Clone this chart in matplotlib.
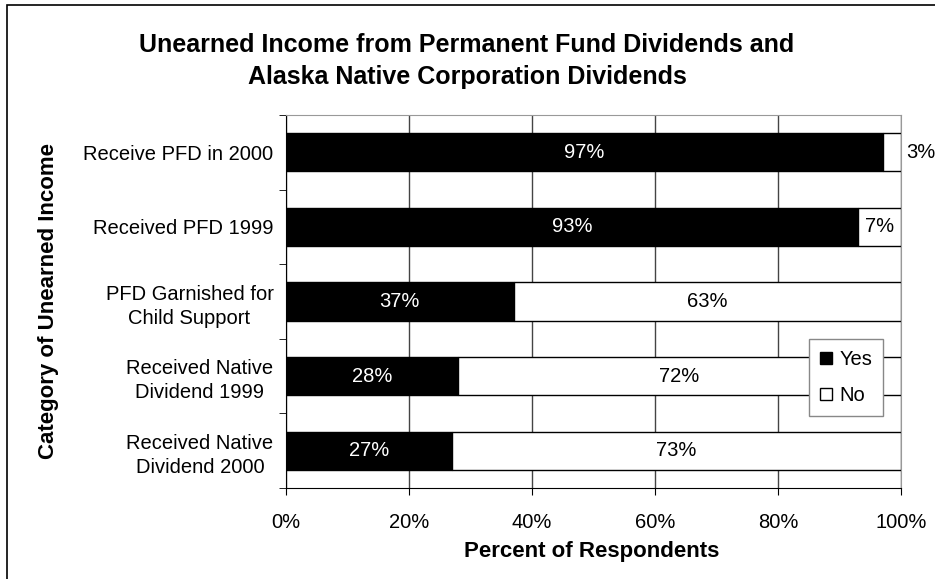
import matplotlib
matplotlib.use("Agg")
import matplotlib.pyplot as plt
from matplotlib.patches import Rectangle
import numpy as np

plt.rcParams['font.family'] = ['Liberation Sans', 'DejaVu Sans']

# data
categories = ["Receive PFD in 2000", "Received PFD 1999", "PFD Garnished for\nChild Support",
              "Received Native\nDividend 1999", "Received Native\nDividend 2000"]
yes_vals = [97, 93, 37, 28, 27]
no_vals = [3, 7, 63, 72, 73]
xticks = [0, 20, 40, 60, 80, 100]

fig = plt.figure(figsize=(9.35, 5.79), dpi=100)
ax = fig.add_axes([286/935, 1-488/579, 615/935, 373/579])

y = np.arange(len(categories))
ax.barh(y, yes_vals, height=0.51, color='black', edgecolor='black', linewidth=1, label='Yes', zorder=3)
ax.barh(y, no_vals, left=yes_vals, height=0.51, color='white', edgecolor='black', linewidth=1, label='No', zorder=3)

fs = 14.5
for i in range(len(categories)):
    ax.text(yes_vals[i]/2, y[i], f"{yes_vals[i]}%", color='white', ha='center', va='center', fontsize=fs, zorder=4)
    if no_vals[i] < 5:
        ax.text(100.8, y[i], f"{no_vals[i]}%", color='black', ha='left', va='center', fontsize=fs, zorder=4, clip_on=False)
    else:
        ax.text(yes_vals[i] + no_vals[i]/2, y[i], f"{no_vals[i]}%", color='black', ha='center', va='center', fontsize=fs, zorder=4)

ax.set_xlim(0, 100)
ax.set_ylim(len(categories)-0.5, -0.5)
ax.set_xticks(xticks)
ax.set_xticklabels([f"{v}%" for v in xticks], fontsize=fs)
ax.set_yticks(y)
ax.set_yticklabels(categories, fontsize=fs, multialignment='center', linespacing=1.35)
ax.tick_params(axis='y', which='major', length=0, pad=9)
ax.set_yticks(np.arange(-0.5, len(categories)), minor=True)
ax.tick_params(axis='y', which='minor', length=5, direction='out', color='black')
ax.tick_params(axis='x', length=5, direction='out', pad=13)

ax.grid(axis='x', color='#444444', linewidth=1, zorder=0)
for s in ['top', 'right']:
    ax.spines[s].set_color('#999999')
for s in ['left', 'bottom']:
    ax.spines[s].set_color('black')

fig.text(592/935, 1-552/579, "Percent of Respondents", fontsize=16, fontweight='bold', ha='center', va='center')
fig.text(49/935, 1-301/579, "Category of Unearned Income", rotation=90, fontsize=16,
         fontweight='bold', ha='center', va='center')

fig.text(467/935, 1-61/579, "Unearned Income from Permanent Fund Dividends and\nAlaska Native Corporation Dividends",
         ha='center', va='center', fontsize=18, fontweight='bold', linespacing=1.45)

leg = ax.legend(loc='upper left', bbox_to_anchor=((809-286)/615, (488-339)/373), fontsize=fs,
                frameon=True, fancybox=False, framealpha=1, edgecolor='#888888',
                handlelength=0.6, handleheight=0.6, handletextpad=0.35, borderpad=0.55,
                labelspacing=0.85, borderaxespad=0)
leg.set_zorder(5)
leg.get_frame().set_linewidth(1)

fig.patches.append(Rectangle((7/935, -0.1), 1.2, 1.1 - 5/579, transform=fig.transFigure,
                             fill=False, edgecolor='black', linewidth=1.2))

fig.savefig("out.png", dpi=100)
